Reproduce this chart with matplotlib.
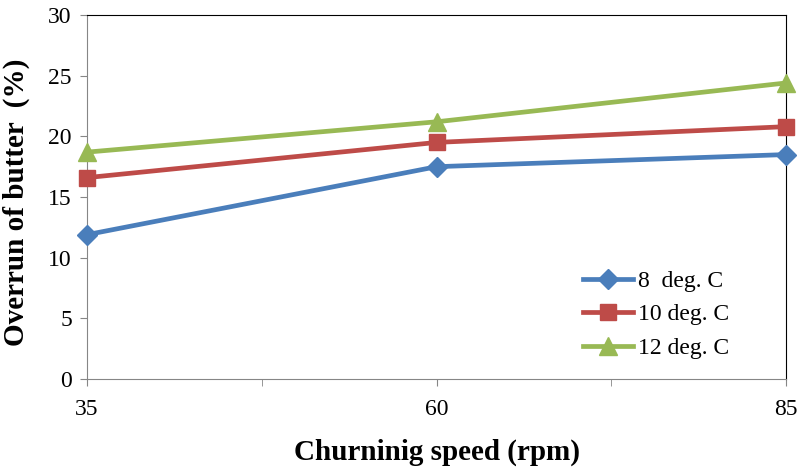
import matplotlib.pyplot as plt

# Data
speed = [35, 60, 85]
temp_8 = [11.9, 17.5, 18.5]
temp_10 = [16.6, 19.5, 20.8]
temp_12 = [18.7, 21.2, 24.4]
labels = ["8  deg. C", "10 deg. C", "12 deg. C"]

plt.rcParams["font.family"] = ["Liberation Serif", "DejaVu Serif"]

fig, ax = plt.subplots(figsize=(7.99, 4.68), dpi=100)
fig.subplots_adjust(left=0.109, right=0.984, top=0.968, bottom=0.19)

ax.plot(speed, temp_8, color="#4A7EBB", lw=3.4, marker="D", ms=10,
        label=labels[0], clip_on=False, zorder=3)
ax.plot(speed, temp_10, color="#BE4B48", lw=3.4, marker="s", ms=12,
        label=labels[1], clip_on=False, zorder=3)
ax.plot(speed, temp_12, color="#98B954", lw=3.4, marker="^", ms=13,
        label=labels[2], clip_on=False, zorder=3)

ax.set_xlim(35, 85)
ax.set_ylim(0, 30)
ax.set_xticks([35, 60, 85])
ax.set_xticks([47.5, 72.5], minor=True)
ax.set_yticks(range(0, 31, 5))
ax.tick_params(axis="both", which="both", direction="out", color="#868686",
               labelsize=17, length=5)
ax.tick_params(axis="x", pad=9)
ax.tick_params(axis="y", pad=6)

for s in ["left", "bottom"]:
    ax.spines[s].set_color("#868686")
for s in ["top", "right"]:
    ax.spines[s].set_color("black")

ax.set_xlabel("Churninig speed (rpm)", fontsize=21, fontweight="bold")
ax.set_ylabel("Overrun of butter  (%)", fontsize=21, fontweight="bold")
ax.xaxis.set_label_coords(0.5, -0.165)
ax.yaxis.set_label_coords(-0.082, 0.485)

ax.legend(loc="upper left", bbox_to_anchor=(0.71, 0.298), frameon=False,
          fontsize=17, handlelength=2.1, labelspacing=0.5, handletextpad=0.2,
          borderpad=0, borderaxespad=0)

fig.savefig("out.png")
